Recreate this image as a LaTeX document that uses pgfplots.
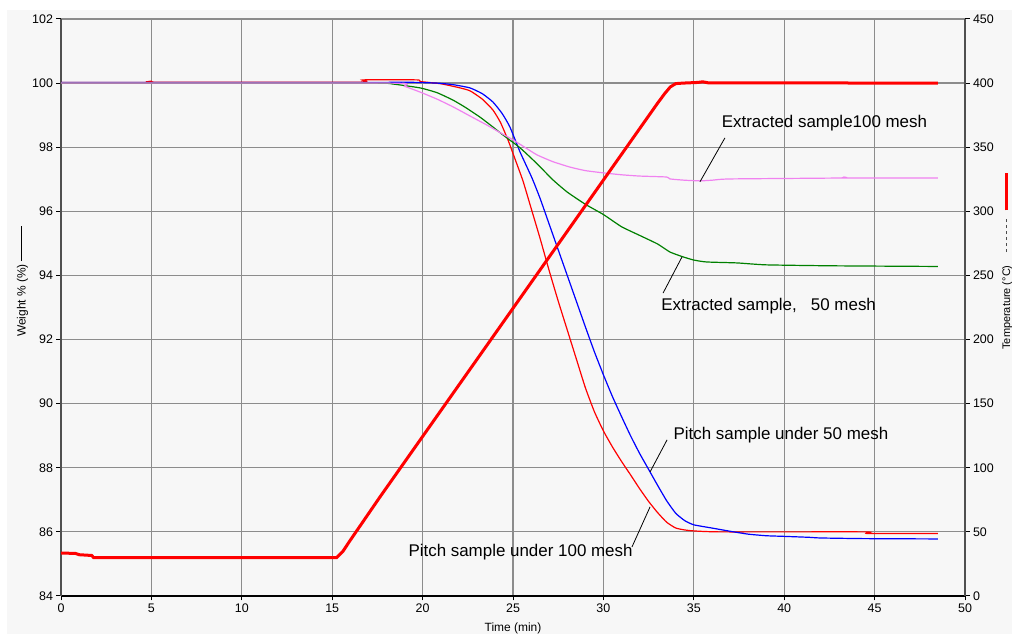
\documentclass[border=0pt]{standalone}
\usepackage{pgfplots}
\pgfplotsset{compat=1.18}
\usepackage{fontspec}
\setmainfont{Liberation Sans}
\definecolor{bg}{RGB}{247,247,247}
\definecolor{gridc}{RGB}{140,140,140}
\definecolor{pinkc}{RGB}{240,130,240}
\definecolor{dgreen}{RGB}{0,128,0}
\definecolor{axc}{RGB}{80,80,80}
\begin{document}
\begin{tikzpicture}[x=1bp,y=1bp]
\fill[white] (0,0) rectangle (1012,634);
\fill[bg] (7,0) rectangle (1012,624);
\begin{axis}[
  at={(61bp,38bp)}, anchor=south west,
  width=904bp, height=577bp, scale only axis,
  xmin=0, xmax=50, ymin=84, ymax=102,
  xtick={0,5,...,50}, ytick={84,86,...,102},
  grid=major, major grid style={gridc, line width=1.2bp},
  axis x line*=bottom, axis y line*=left,
  x axis line style={-, black, line width=1.5bp},
  y axis line style={-, axc, line width=1.8bp},
  tick align=outside, major tick length=4.5bp,
  tick style={black, line width=1bp},
  ticklabel style={font=\fontsize{12.5}{14}\selectfont},
  /pgf/number format/assume math mode=true,
  clip=false,
]
% Pitch sample under 100 mesh (thin red)
\addplot[red, line width=1.2bp, smooth, tension=0.3] coordinates {
(0,100.02) (4.8,100.02) (5.0,100.06) (5.3,100.03) (16.5,100.03) (16.7,100.1) (19.7,100.1) (19.86,100.05) (21,99.98) (22.0,99.86) (22.62,99.76) (23.3,99.5) (23.89,99.16) (24.3,98.78) (24.72,98.23) (25.1,97.65) (25.55,96.95) (26.0,96.1) (26.5,95.15) (27,94.15) (27.5,93.2) (28,92.3) (28.5,91.4) (29,90.5) (29.5,89.75) (30,89.15) (30.5,88.65) (31,88.2) (31.5,87.78) (32,87.35) (32.5,86.95) (33,86.6) (33.5,86.3) (34,86.12) (34.5,86.06) (35,86.03) (36.5,86.0) (44.5,86.0) (44.6,85.95) (48.5,85.95)
};
% Pitch sample under 50 mesh (blue)
\addplot[blue, line width=1.2bp, smooth, tension=0.3] coordinates {
(0,100.02) (17,100.02) (19,100.03) (20.8,100.0) (21.7,99.95) (22.62,99.85) (23.3,99.67) (23.89,99.41) (24.4,99.05) (24.83,98.63) (25.39,97.85) (26.05,97.04) (26.5,96.4) (27,95.6) (27.5,94.8) (28,94.0) (28.5,93.2) (29,92.4) (29.5,91.62) (30,90.9) (30.5,90.22) (31,89.6) (31.5,89.0) (32,88.45) (32.5,87.95) (33,87.45) (33.5,86.97) (34,86.58) (34.5,86.35) (35,86.22) (36,86.12) (37,86.02) (38,85.93) (39,85.88) (40,85.86) (41.4,85.83) (42,85.81) (44.4,85.79) (48.5,85.78)
};
% Extracted sample 50 mesh (green)
\addplot[dgreen, line width=1.2bp, smooth, tension=0.3] coordinates {
(0,100.0) (17,100.0) (18.36,99.97) (19.86,99.85) (20.8,99.7) (21.68,99.47) (22.4,99.23) (23.17,98.94) (23.8,98.67) (24.45,98.38) (25.39,97.98) (26.3,97.5) (27.21,96.98) (28,96.6) (29,96.22) (30,95.9) (31,95.52) (32,95.25) (33,94.98) (33.68,94.73) (34.4,94.58) (35,94.48) (35.7,94.42) (37.4,94.39) (39,94.33) (42.7,94.3) (48.5,94.28)
};
% Extracted sample 100 mesh (violet)
\addplot[pinkc, line width=1.2bp, smooth, tension=0.3] coordinates {
(0,100.0) (18.2,100.0) (19.0,99.9) (19.86,99.72) (20.8,99.5) (21.68,99.26) (22.6,98.98) (23.56,98.69) (24.3,98.45) (25.0,98.23) (25.7,97.98) (26.33,97.76) (27.2,97.55) (28.15,97.38) (29,97.27) (29.98,97.2) (31,97.14) (32,97.1) (33.5,97.07) (33.68,97.01) (34.5,96.97) (35.34,96.95) (36,96.97) (37,97.01) (43.2,97.04) (43.3,97.07) (43.5,97.04) (48.5,97.04)
};
% annotations
\begin{scope}[every node/.style={font=\fontsize{17}{20}\selectfont, inner sep=0pt, anchor=base west}]
\node at (axis cs:36.54,98.61) {Extracted sample100 mesh};
\node at (axis cs:33.19,92.92) {Extracted sample,\ \ \ 50 mesh};
\node at (axis cs:33.87,88.87) {Pitch sample under 50 mesh};
\node at (axis cs:19.21,85.23) {Pitch sample under 100 mesh};
\end{scope}
\draw[black, line width=0.8bp] (axis cs:36.72,98.29) -- (axis cs:35.34,96.92);
\draw[black, line width=0.8bp] (axis cs:33.3,93.45) -- (axis cs:34.35,94.58);
\draw[black, line width=0.8bp] (axis cs:33.52,88.87) -- (axis cs:32.58,87.87);
\draw[black, line width=0.8bp] (axis cs:31.58,85.53) -- (axis cs:32.58,86.78);
\end{axis}
\begin{axis}[
  at={(61bp,38bp)}, anchor=south west,
  width=904bp, height=577bp, scale only axis,
  xmin=0, xmax=50, ymin=0, ymax=450,
  axis x line=none, axis y line*=right,
  ytick={0,50,...,450},
  y axis line style={-, axc, line width=1.8bp},
  tick align=outside, major tick length=4.5bp,
  tick style={black, line width=1bp},
  ticklabel style={font=\fontsize{12.5}{14}\selectfont},
  /pgf/number format/assume math mode=true,
]
\addplot[red, line width=3bp] coordinates {
(0,33.5) (0.8,33.2) (1.0,32.2) (1.7,31.6) (1.8,30) (15.25,30) (15.6,35) (16.0,43.5) (17.64,77.2) (20,124.4) (25,224.4) (30,324.4) (33,384.4) (33.4,392) (33.7,397) (34.0,399.6) (34.4,400) (35.2,400.5) (35.5,401) (35.8,400.2) (48.5,400)
};
\end{axis}
\node[anchor=base, font=\fontsize{12}{14}\selectfont] at (513,2.5) {Time (min)};
\node[rotate=90, anchor=base, font=\fontsize{12}{14}\selectfont] at (25.5,352.5) {Weight \% (\%)\hspace{3bp}\rule[0.28em]{35bp}{1bp}};
\node[rotate=90, anchor=base, font=\fontsize{11}{13}\selectfont, inner sep=0pt] at (1010,372.5) {Temperature (°C)\hspace{6bp}{\color{black!70}\leaders\hbox to 6bp{\hss\rule[0.25em]{3bp}{1bp}\hss}\hskip 42bp}\hspace{7bp}{\color{red}\rule[0.2em]{37bp}{3bp}}};
\pgfresetboundingbox
\useasboundingbox (0,0) rectangle (1012,634);
\end{tikzpicture}
\end{document}
